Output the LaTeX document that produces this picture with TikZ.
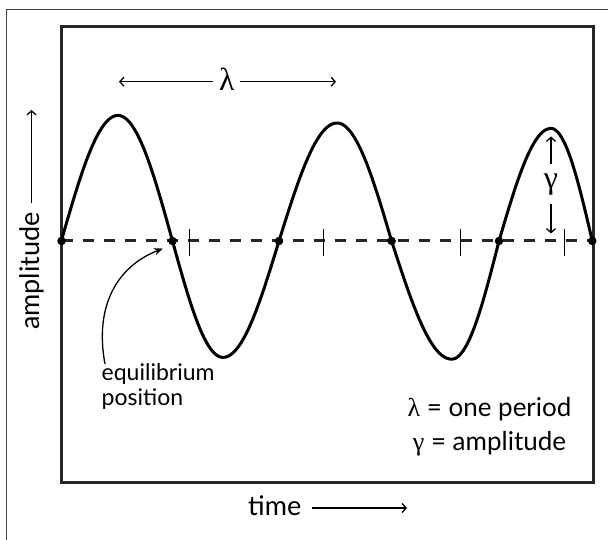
\documentclass[tikz,border=0pt]{standalone}
\usepackage{fontspec}
\setmainfont{Lato}
\newfontfamily\grk{Liberation Serif}
\usetikzlibrary{arrows.meta}
\tikzset{
  frameline/.style={line width=1.3pt, draw=black!75},
  boxline/.style={line width=3.3pt, draw=black!85},
  wave/.style={line width=3pt, line join=round, line cap=round},
  eqline/.style={line width=3pt, dash pattern=on 11pt off 10pt, draw=black!85},
  tickline/.style={line width=1.3pt},
  dimarrow/.style={line width=1.3pt, -{Straight Barb[length=4pt,width=9pt,line width=1.3pt]}},
  pointer/.style={line width=1.3pt, -{Stealth[length=9pt,width=7pt]}},
  dot/.style={circle, fill=black, inner sep=0pt, minimum size=8.5pt},
  lbl/.style={font=\fontsize{27}{32}\selectfont, inner sep=0pt},
  grklbl/.style={font=\grk\fontsize{32}{34}\selectfont, inner sep=0pt}
}
\begin{document}
\begin{tikzpicture}[x=1pt,y=-1pt]
\useasboundingbox (0,0) rectangle (608,540);
% outer frame (left and top edges visible)
\coordinate (ofl) at (6.7,545);
\coordinate (oftl) at (6.7,9.7);
\coordinate (oftr) at (612,9.7);
\draw[frameline] (ofl) -- (oftl) -- (oftr);
% inner box
\coordinate (bx1) at (61.7,26.5);
\coordinate (bx2) at (593.3,482.3);
\draw[boxline] (bx1) rectangle (bx2);
% equilibrium line
\coordinate (eqL) at (61.7,241);
\coordinate (eqR) at (593.3,241);
\draw[eqline] (eqL) -- (eqR);
% ticks
\foreach \t in {189.3,323.5,460.6,564.4}{
  \draw[tickline] (\t,229) -- (\t,256);
}
% wave: half arcs (x0, xpeak, x1, amplitude)
\foreach \xa/\xp/\xb/\am in {61.3/118/172.5/125.6, 172.5/223/279/-116.4, 279/337/391.6/118, 391.6/451.7/499/-118.2, 499/551/592.3/112.6}{
  \draw[wave] plot[domain=0:90,samples=25] ({\xa+(\xp-\xa)*\x/90},{241-\am*sin(\x)})
    -- plot[domain=90:180,samples=25] ({\xp+(\xb-\xp)*(\x-90)/90},{241-\am*sin(\x)});
}
% dots
\node[dot] (d0) at (61.5,241) {};
\node[dot] (d1) at (172.5,241) {};
\node[dot] (d2) at (279,241) {};
\node[dot] (d3) at (391.6,241) {};
\node[dot] (d4) at (499,241) {};
\node[dot] (d5) at (592.3,241) {};
% lambda dimension
\node[grklbl] (lam) at (227,79) {λ};
\coordinate (lamL) at (119,81.7);
\coordinate (lamR) at (336,81.7);
\coordinate (lamLs) at (213,81.7);
\coordinate (lamRs) at (240,81.7);
\draw[dimarrow] (lamLs) -- (lamL);
\draw[dimarrow] (lamRs) -- (lamR);
% gamma dimension
\node[grklbl] (gam) at (551,185) {γ};
\coordinate (gamT) at (551,136.5);
\coordinate (gamB) at (551,233.5);
\coordinate (gamTs) at (551,164);
\coordinate (gamBs) at (551,204);
\draw[dimarrow] (gamTs) -- (gamT);
\draw[dimarrow] (gamBs) -- (gamB);
% equilibrium label
\node[lbl, anchor=north west, align=left, font=\fontsize{23}{25}\selectfont] (eqtxt) at (101.5,363) {equilibrium\\position};
\coordinate (eqtip) at (163,248.5);
\coordinate (eqstart) at (105,364);
\draw[pointer] (eqstart) .. controls (94,305) and (118,266) .. (eqtip);
% legend
\node[lbl, align=center, font=\fontsize{26}{34}\selectfont] (legend) at (489.5,427)
  {{\grk λ} = one period\\{\grk γ} = amplitude};
% time axis label
\node[lbl, anchor=west] (time) at (248,506) {time};
\coordinate (timeS) at (311.7,508);
\coordinate (timeTip) at (407,508);
\draw[dimarrow] (timeS) -- (timeTip);
% amplitude axis label
\node[lbl, rotate=90, anchor=west] (amp) at (31.5,330) {amplitude};
\coordinate (ampS) at (31.5,203);
\coordinate (ampTip) at (31.5,110);
\draw[dimarrow] (ampS) -- (ampTip);
\end{tikzpicture}
\end{document}
